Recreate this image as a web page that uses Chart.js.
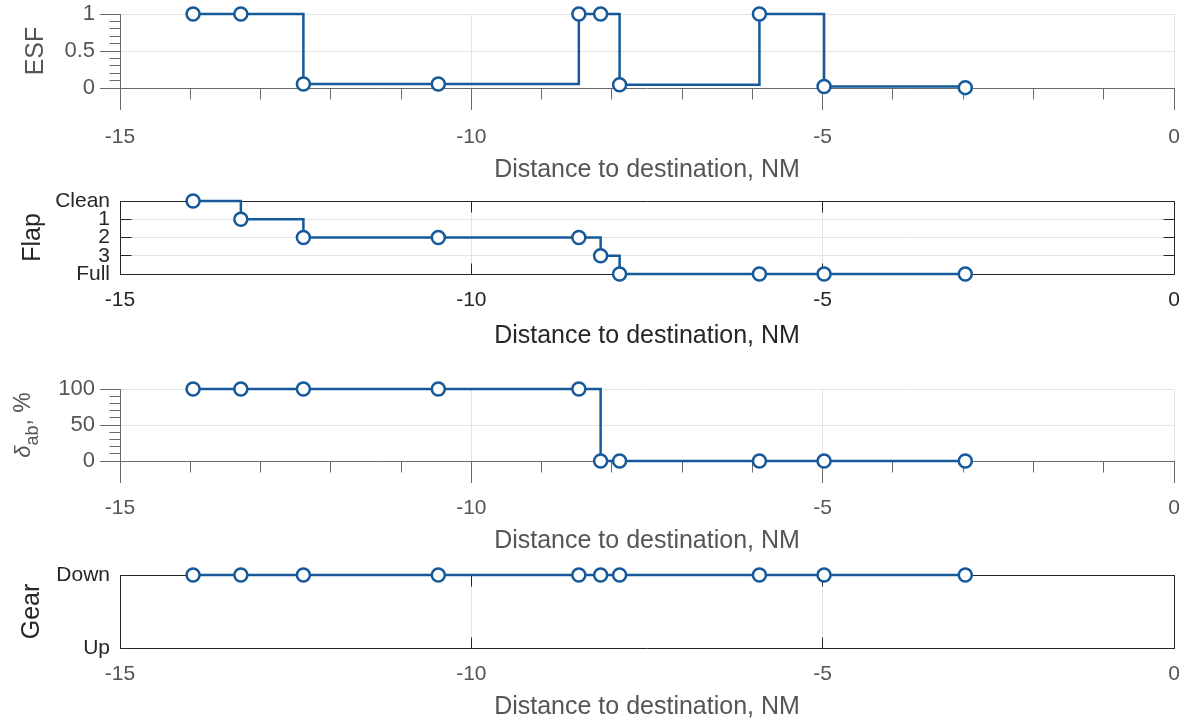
<!DOCTYPE html>
<html>
<head>
<meta charset="utf-8">
<script src="https://cdn.jsdelivr.net/npm/chart.js@4.4.1/dist/chart.umd.min.js"></script>
<style>
  body { margin: 0; background: #fff; width: 1183px; height: 725px; overflow: hidden; position: relative; }
  canvas { position: absolute; left: 0; }
</style>
</head>
<body>
<canvas id="esf" width="1183" height="185"></canvas>
<canvas id="flap" width="1183" height="172"></canvas>
<canvas id="airbrake" width="1183" height="203"></canvas>
<canvas id="gear" width="1183" height="165"></canvas>
<script>
// distance of each waypoint to destination, NM
const distance = [-13.96, -13.28, -12.39, -10.47, -8.47, -8.16, -7.89, -5.9, -4.98, -2.97];
const esf = [1, 1, 0.055, 0.055, 1, 1, 0.045, 1, 0.02, 0.005];
const flapLevels = ['Clean', '1', '2', '3', 'Full'];
const flap = ['Clean', '1', '2', '2', '2', '3', 'Full', 'Full', 'Full', 'Full'];
const airbrake = [100, 100, 100, 100, 100, 0, 0, 0, 0, 0];
const gearLevels = ['Down', 'Up'];
const gear = ['Down', 'Down', 'Down', 'Down', 'Down', 'Down', 'Down', 'Down', 'Down', 'Down'];
const xTicks = [-15, -10, -5, 0];
const esfTicks = [0, 0.5, 1];
const airbrakeTicks = [0, 50, 100];

const FONT = '"Liberation Sans", Arial, Helvetica, sans-serif';
const LINE = '#15599a';
const GRID = '#e4e4e4';
const TICK_PX = 21, TITLE_PX = 25;

// minor ticks, box and inward ticks like the matlab figure
const axisDecor = {
  id: 'axisDecor',
  beforeDatasetsDraw(chart, args, o) {
    const {ctx, chartArea: a, scales: {x, y}} = chart;
    const al = p => Math.round(p - 0.5) + 0.5;
    ctx.save();
    ctx.lineWidth = 1;
    ctx.strokeStyle = o.color;
    ctx.beginPath();
    if (o.box) {
      const l = al(a.left), r = al(a.right), t = al(a.top), b = al(a.bottom);
      ctx.rect(l, t, r - l, b - t);
      x.ticks.forEach(tk => {
        const px = al(x.getPixelForValue(tk.value));
        ctx.moveTo(px, t); ctx.lineTo(px, t + o.tickLen);
        ctx.moveTo(px, b); ctx.lineTo(px, b - o.tickLen);
      });
      y.ticks.forEach((tk, i) => {
        const py = al(y.getPixelForTick(i));
        ctx.moveTo(l, py); ctx.lineTo(l + o.tickLen, py);
        ctx.moveTo(r, py); ctx.lineTo(r - o.tickLen, py);
      });
    } else {
      const b = al(a.bottom), l = al(a.left);
      const majX = x.ticks.map(t => t.value), majY = y.ticks.map(t => t.value);
      const nx = Math.round((x.max - x.min) / o.xMinor);
      for (let k = 0; k <= nx; k++) {
        const v = x.min + k * o.xMinor;
        if (majX.some(m => Math.abs(m - v) < 1e-6)) continue;
        const px = al(x.getPixelForValue(v));
        ctx.moveTo(px, b); ctx.lineTo(px, b + o.minorLen);
      }
      const ny = Math.round((y.max - y.min) / o.yMinor);
      for (let k = 0; k <= ny; k++) {
        const v = y.min + k * o.yMinor;
        if (majY.some(m => Math.abs(m - v) < 1e-6)) continue;
        const py = al(y.getPixelForValue(v));
        ctx.moveTo(l - o.minorLen, py); ctx.lineTo(l, py);
      }
    }
    ctx.stroke();
    ctx.restore();
  }
};

// rotated y title with a subscript (delta_ab), built per chart so the parts stay plain objects
function richTitle(x, color, parts) {
  return {
    id: 'richTitle',
    afterDraw(chart) {
      const {ctx, chartArea: a} = chart;
      ctx.save();
      ctx.fillStyle = color;
      ctx.textBaseline = 'alphabetic';
      const widths = parts.map(p => { ctx.font = p.css; return ctx.measureText(p.text).width; });
      const total = widths.reduce((s, w) => s + w, 0);
      ctx.translate(x, (a.top + a.bottom) / 2);
      ctx.rotate(-Math.PI / 2);
      let cx = -total / 2;
      parts.forEach((p, i) => { ctx.font = p.css; ctx.fillText(p.text, cx, p.shift); cx += widths[i]; });
      ctx.restore();
    }
  };
}

function panel(id, p) {
  const cv = document.getElementById(id);
  cv.style.top = p.top + 'px';
  const tickLH = TICK_PX * 1.2, titleLH = TITLE_PX * 1.2;
  const tickLen = p.origin ? 22 : 0;
  const plotBottom = p.plotBottom - p.top;
  const xAxisH = cv.height - plotBottom;
  const axisColor = p.origin ? '#6a6a6a' : '#262626';
  const txt = p.origin ? '#555555' : '#262626';

  let y;
  if (p.origin) {
    y = {
      type: 'linear', min: p.ticks[0], max: p.ticks[p.ticks.length - 1],
      afterBuildTicks: s => { s.ticks = p.ticks.map(v => ({value: v})); },
      grid: { color: c => c.tick && c.tick.value === 0 ? 'rgba(0,0,0,0)' : GRID, tickColor: axisColor, drawTicks: true, tickLength: 20 },
      border: { display: true, color: axisColor },
      ticks: { color: txt, font: {family: FONT, size: TICK_PX + 1}, padding: 5, callback: v => String(v) }
    };
  } else {
    y = {
      type: 'category', labels: p.levels, offset: false,
      grid: { color: GRID, drawTicks: false },
      border: { display: false },
      ticks: { color: txt, font: {family: FONT, size: TICK_PX}, padding: 10, autoSkip: false }
    };
  }
  y.afterFit = s => { s.width = 120; s.paddingTop = 0; s.paddingBottom = 0; };
  y.title = p.yTitle
    ? { display: true, text: p.yTitle, color: txt, font: {family: FONT, size: TITLE_PX}, padding: {top: p.yTitleX - titleLH / 2, bottom: 0} }
    : { display: false };

  const plugins = [axisDecor];
  if (p.rich) plugins.push(p.rich);

  return new Chart(cv, {
    type: 'line',
    data: {
      datasets: [{
        data: distance.map((d, i) => ({x: d, y: p.values[i]})),
        stepped: true,
        borderColor: LINE,
        borderWidth: 2.5,
        pointRadius: 6.5,
        pointHoverRadius: 6.5,
        pointBorderWidth: 2.5,
        pointBackgroundColor: '#ffffff',
        pointBorderColor: LINE,
        clip: false
      }]
    },
    options: {
      responsive: false,
      animation: false,
      layout: { padding: { top: p.plotTop - p.top, left: 0, right: 1183 - 1175, bottom: 0 } },
      plugins: {
        legend: { display: false },
        tooltip: { enabled: false },
        axisDecor: p.origin
          ? { color: axisColor, xMinor: 1, yMinor: p.yMinor, minorLen: 11 }
          : { color: axisColor, box: true, tickLen: 11 }
      },
      scales: {
        x: {
          type: 'linear', min: -15, max: 0,
          afterBuildTicks: s => { s.ticks = xTicks.map(v => ({value: v})); },
          afterFit: s => { s.height = xAxisH; s.paddingLeft = 0; s.paddingRight = 0; },
          grid: { color: GRID, tickColor: axisColor, drawTicks: p.origin, tickLength: 22 },
          border: { display: p.origin, color: axisColor },
          ticks: { color: p.xText || txt, font: {family: FONT, size: TICK_PX}, maxRotation: 0,
                   padding: p.labelCenter - p.plotBottom - tickLen - tickLH / 2, callback: v => String(v) },
          title: { display: true, text: 'Distance to destination, NM', color: p.xText || txt,
                   font: {family: FONT, size: TITLE_PX},
                   padding: {top: 0, bottom: p.top + cv.height - p.titleCenter - titleLH / 2} }
        },
        y: y
      }
    },
    plugins: plugins
  });
}

panel('esf', { top: 0, plotTop: 14, plotBottom: 88, labelCenter: 137, titleCenter: 170,
  origin: true, values: esf, ticks: esfTicks, yMinor: 0.1, yTitle: 'ESF', yTitleX: 36 });

panel('flap', { top: 185, plotTop: 201, plotBottom: 274, labelCenter: 300, titleCenter: 336,
  origin: false, values: flap, levels: flapLevels, yTitle: 'Flap', yTitleX: 33 });

panel('airbrake', { top: 357, plotTop: 389, plotBottom: 461, labelCenter: 508, titleCenter: 541,
  origin: true, values: airbrake, ticks: airbrakeTicks, yMinor: 10,
  rich: richTitle(30, '#555555', [
    { text: '\u03b4', css: 'italic 22px ' + FONT, shift: 0 },
    { text: 'ab', css: '18px ' + FONT, shift: 8 },
    { text: ', %', css: '23px ' + FONT, shift: 0 }
  ]) });

panel('gear', { top: 560, plotTop: 575, plotBottom: 648, labelCenter: 674, titleCenter: 707,
  origin: false, values: gear, levels: gearLevels, yTitle: 'Gear', yTitleX: 32, xText: '#555555' });
</script>
</body>
</html>
